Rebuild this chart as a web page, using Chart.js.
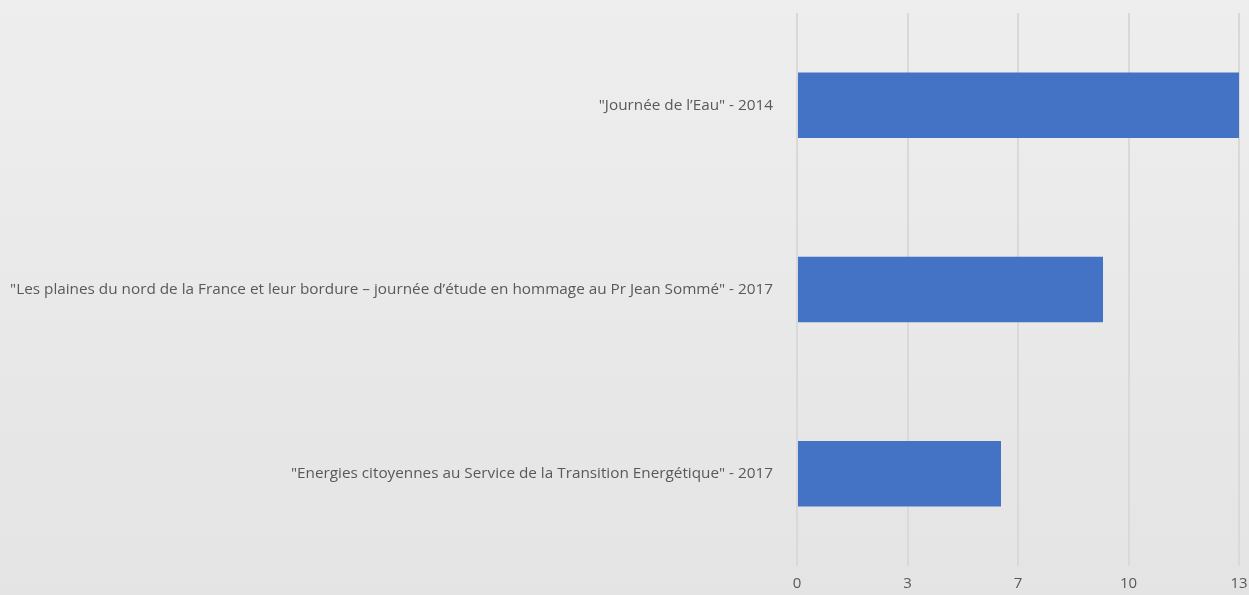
<!DOCTYPE html>
<html>
<head>
<meta charset="utf-8">
<script src="https://cdn.jsdelivr.net/npm/chart.js@4"></script>
<style>
  html, body { margin: 0; padding: 0; background: #eaeaea; }
  #wrap { width: 1249px; height: 595px; position: relative; }
</style>
</head>
<body>
<div id="wrap"><canvas id="myChart"></canvas></div>
<script>
  var labels = [
    '"Journée de l\u2019Eau" - 2014',
    '"Les plaines du nord de la France et leur bordure \u2013 journée d\u2019étude en hommage au Pr Jean Sommé" - 2017',
    '"Energies citoyennes au Service de la Transition Energétique" - 2017'
  ];
  var values = [13, 9, 6];
  var axisMax = 13;
  var axisStep = 3.25;

  // fond dégradé gris
  var bgPlugin = {
    id: 'bg',
    beforeDraw: function(chart) {
      var c = chart.ctx;
      var g = c.createLinearGradient(0, 0, 0, chart.height);
      g.addColorStop(0, '#eeeeee');
      g.addColorStop(1, '#e4e4e4');
      c.save();
      c.fillStyle = g;
      c.fillRect(0, 0, chart.width, chart.height);
      c.restore();
    }
  };

  var ctx = document.getElementById('myChart');
  var myChart = new Chart(ctx, {
    type: 'bar',
    data: {
      labels: labels,
      datasets: [{
        data: values,
        backgroundColor: '#4472c4',
        barPercentage: 0.71,
        categoryPercentage: 0.5
      }]
    },
    plugins: [bgPlugin],
    options: {
      indexAxis: 'y',
      responsive: true,
      maintainAspectRatio: false,
      animation: false,
      layout: { padding: 0 },
      plugins: {
        legend: { display: false },
        tooltip: { enabled: false }
      },
      scales: {
        x: {
          min: 0,
          max: axisMax,
          border: { display: false },
          grid: { color: '#d9d9d9', lineWidth: 2, drawTicks: false },
          afterFit: function(scale) {
            scale.height = 29;
            scale.paddingRight = 10;
            scale.paddingLeft = 0;
          },
          ticks: {
            stepSize: axisStep,
            padding: 9,
            color: '#595959',
            font: { family: 'Open Sans', size: 15 },
            callback: function(v) { return Math.round(v); }
          }
        },
        y: {
          border: { display: false },
          grid: { display: false },
          afterFit: function(scale) {
            scale.width = 797;
            scale.paddingTop = 13;
            scale.paddingBottom = 0;
          },
          ticks: {
            padding: 16,
            color: '#595959',
            font: { family: 'Open Sans', size: 15.3 }
          }
        }
      }
    }
  });
</script>
</body>
</html>
